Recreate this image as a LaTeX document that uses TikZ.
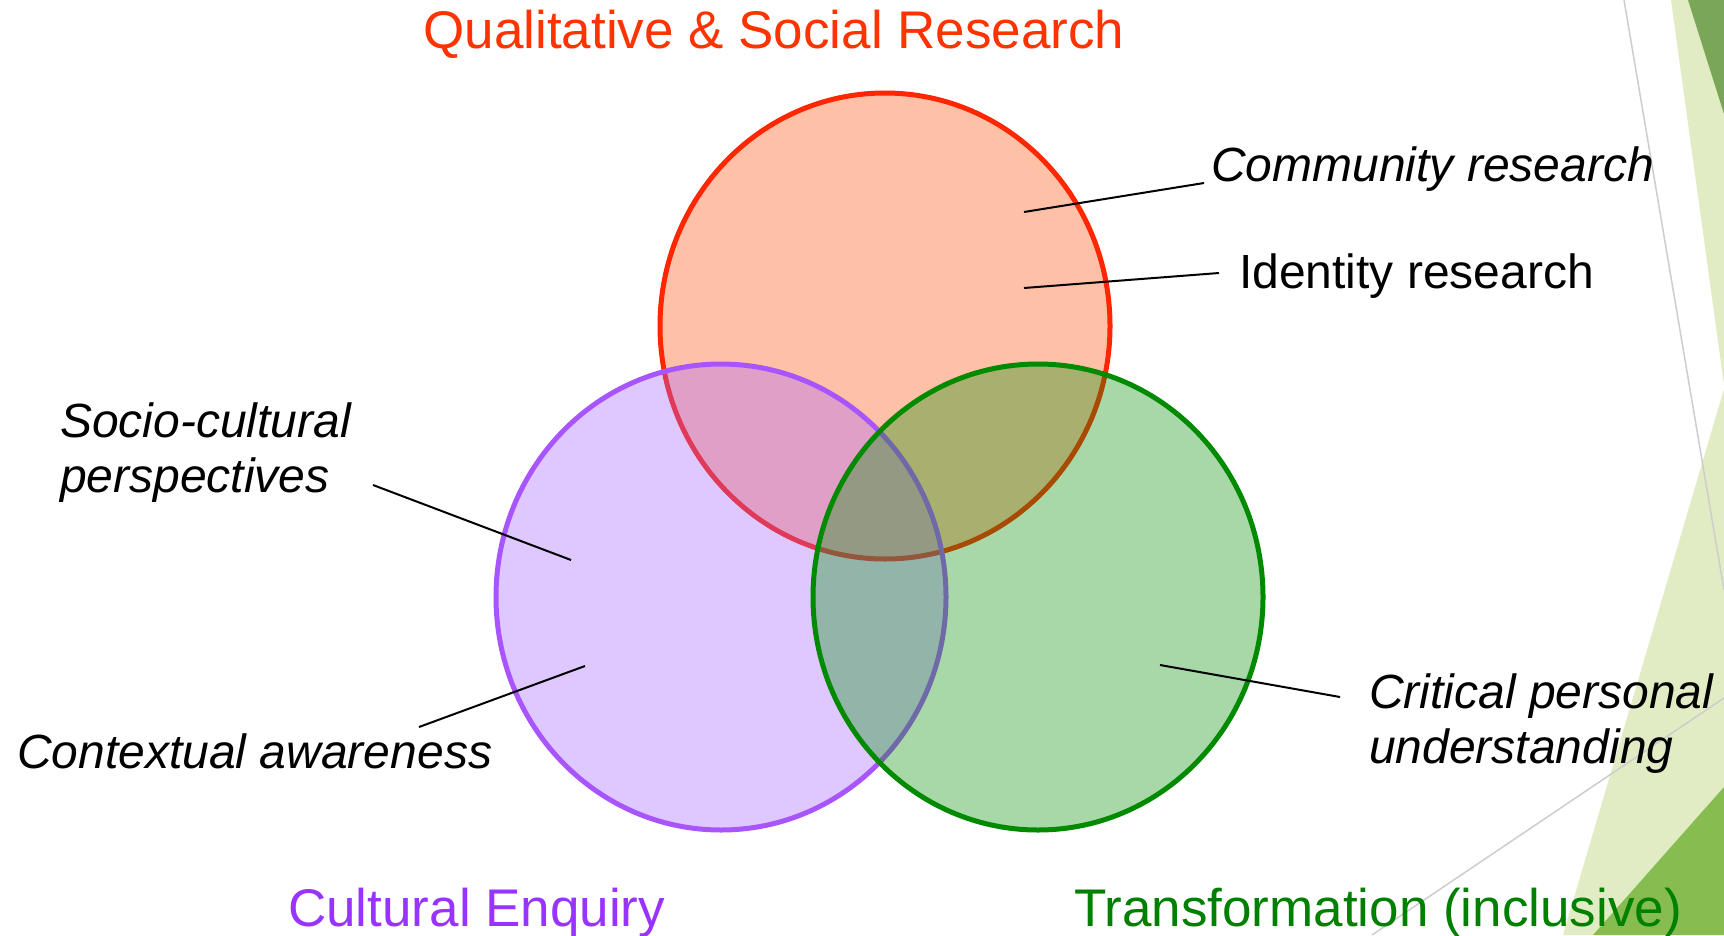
\documentclass[tikz,border=0pt]{standalone}
\usepackage{fontspec}
\setmainfont{Liberation Sans}
\usetikzlibrary{shapes.geometric}
\definecolor{redline}{RGB}{255,38,0}
\definecolor{redfill}{RGB}{255,75,6}
\definecolor{redtext}{RGB}{255,51,0}
\definecolor{purpline}{RGB}{168,85,255}
\definecolor{purpfill}{RGB}{166,98,255}
\definecolor{purptext}{RGB}{153,51,255}
\definecolor{greenline}{RGB}{0,138,0}
\definecolor{greenfill}{RGB}{6,144,6}
\definecolor{greentext}{RGB}{0,128,0}
\definecolor{lightg}{RGB}{225,236,196}
\definecolor{darkgtop}{RGB}{122,166,88}
\definecolor{darkgbot}{RGB}{134,188,80}
\definecolor{decogray}{RGB}{205,205,205}
\begin{document}
\begin{tikzpicture}[x=1pt,y=-1pt,
  venn/.style={ellipse, minimum width=450pt, minimum height=466pt, inner sep=0pt, line width=5pt, fill opacity=0.35},
  lab/.style={font=\fontsize{48}{55}\selectfont\itshape, anchor=base west, inner sep=0pt, align=left},
  labup/.style={font=\fontsize{48}{55}\selectfont, anchor=base west, inner sep=0pt},
  cat/.style={font=\fontsize{53}{60}\selectfont, inner sep=0pt},
  leader/.style={line width=2pt, black},
  deco/.style={draw=decogray, line width=1.5pt}]
\useasboundingbox (0,0) rectangle (1724,935);
\fill[white] (0,0) rectangle (1724,935);
% background decoration
\fill[lightg] (1671,0) -- (1724,0) -- (1724,385) -- cycle;
\fill[darkgtop] (1688,0) -- (1724,0) -- (1724,114) -- cycle;
\fill[lightg] (1724,389) -- (1724,935) -- (1563,935) -- cycle;
\fill[darkgbot] (1724,787) -- (1724,935) -- (1593,935) -- cycle;
\draw[deco] (1624,0) -- (1724,590);
\draw[deco] (1724,698) -- (1372,935);
% circles
\node[venn, draw=redline, fill=redfill] (qsr) at (885,326) {};
\node[venn, draw=purpline, fill=purpfill] (ce) at (721,597) {};
\node[venn, draw=greenline, fill=greenfill] (tr) at (1038,597) {};
% category titles
\node[cat, text=redtext, anchor=base] (tqsr) at (774,48) {Qualitative \& Social Research};
\node[cat, text=purptext, anchor=base west] (tce) at (288,926) {Cultural Enquiry};
\node[cat, text=greentext, anchor=base west] (ttr) at (1074,926) {Transformation (inclusive)};
% labels (multi-line labels are placed by their last baseline)
\node[lab] (lcom) at (1211,181) {Community research};
\node[labup] (lid) at (1239,288) {Identity research};
\node[lab] (lsoc) at (60,492) {Socio-cultural\\perspectives};
\node[lab] (lctx) at (17,768) {Contextual awareness};
\node[lab] (lcrit) at (1369,763) {Critical personal\\understanding};
% leader end points
\coordinate (pcom) at (1024,212);
\coordinate (qcom) at (1204,183);
\coordinate (pid) at (1024,288);
\coordinate (qid) at (1219,273);
\coordinate (psoc) at (571,560);
\coordinate (qsoc) at (373,485);
\coordinate (pctx) at (585,666);
\coordinate (qctx) at (419,727);
\coordinate (pcrit) at (1160,665);
\coordinate (qcrit) at (1340,697);
\draw[leader] (pcom) -- (qcom);
\draw[leader] (pid) -- (qid);
\draw[leader] (psoc) -- (qsoc);
\draw[leader] (pctx) -- (qctx);
\draw[leader] (pcrit) -- (qcrit);
\end{tikzpicture}
\end{document}
